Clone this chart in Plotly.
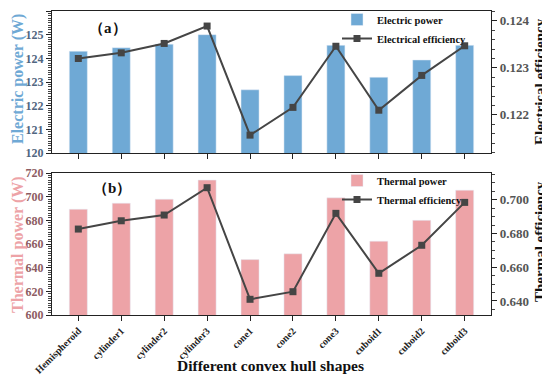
import plotly.graph_objects as go

categories = ["Hemispheroid", "cylinder1", "cylinder2", "cylinder3", "cone1", "cone2",
              "cone3", "cuboid1", "cuboid2", "cuboid3"]
electric_power = [124.3, 124.45, 124.6, 125.0, 122.67, 123.27, 124.55, 123.2, 123.93, 124.55]
electrical_eff = [0.1232, 0.12332, 0.12352, 0.12389, 0.12157, 0.12216, 0.12346, 0.1221, 0.12284, 0.12347]
thermal_power = [689.4, 694.5, 697.9, 714.0, 646.8, 651.7, 699.0, 662.4, 680.0, 705.5]
thermal_eff = [0.6826, 0.6875, 0.6909, 0.7071, 0.641, 0.6455, 0.6919, 0.6564, 0.673, 0.6984]

SERIF = "Liberation Serif"
BLUE = "#6fa9d5"
PINK = "#eda3a7"
LINE = "#454545"

fig = go.Figure()
fig.add_trace(go.Bar(x=categories, y=electric_power, name="Electric power", marker_color=BLUE,
                     width=0.42, xaxis="x", yaxis="y", legend="legend"))
fig.add_trace(go.Scatter(x=categories, y=electrical_eff, name="Electrical efficiency", mode="lines+markers",
                         line=dict(color=LINE, width=2), marker=dict(symbol="square", size=7, color=LINE),
                         xaxis="x", yaxis="y2", legend="legend"))
fig.add_trace(go.Bar(x=categories, y=thermal_power, name="Thermal power", marker_color=PINK,
                     width=0.42, xaxis="x2", yaxis="y3", legend="legend2"))
fig.add_trace(go.Scatter(x=categories, y=thermal_eff, name="Thermal efficiency", mode="lines+markers",
                         line=dict(color=LINE, width=2), marker=dict(symbol="square", size=7, color=LINE),
                         xaxis="x2", yaxis="y4", legend="legend2"))

axis_common = dict(showline=True, linecolor="#222", linewidth=1.2, ticks="outside",
                   tickcolor="#222", showgrid=False, zeroline=False, automargin=False)

# figure is offset by the page's 8px body margin
W, H = 542, 370
L, R, T, B = 44, 59, 3, 63
PW, PH = W - L - R, H - T - B


def px(x_abs):
    return (x_abs - 8 - L) / PW


def py(y_abs):
    return (H - B - (y_abs - 8)) / PH


def title_ann(text, x_abs, y_abs, size, color, angle=0):
    return dict(text=text, x=px(x_abs), y=py(y_abs), xref="paper", yref="paper", showarrow=False,
                xanchor="center", yanchor="middle", textangle=angle,
                font=dict(family=SERIF, size=size, color=color))


fig.update_layout(
    width=W, height=H,
    margin=dict(l=L, r=R, t=T, b=B, autoexpand=False),
    plot_bgcolor="white", paper_bgcolor="white",
    font=dict(family=SERIF, size=11, color="#222"),
    barmode="overlay",
    xaxis=dict(**axis_common, anchor="y", mirror=True, showticklabels=False, ticklen=5,
               categoryorder="array", categoryarray=categories),
    xaxis2=dict(**axis_common, anchor="y3", mirror=True, ticklen=5, matches="x",
                tickangle=-45, tickfont=dict(family=SERIF, size=10, color="#222", weight="bold")),
    yaxis=dict(**axis_common, domain=[py(153), 1], anchor="x", range=[120, 126], dtick=1, ticklen=5,
               minor=dict(dtick=0.1, ticklen=2.5, ticks="outside", tickcolor="#444"),
               tickfont=dict(family=SERIF, size=12, color="#4f6680", weight="bold")),
    yaxis2=dict(**axis_common, overlaying="y", side="right", anchor="x", range=[0.12119, 0.12421],
                dtick=0.001, tickformat=".3f", ticklen=5,
                minor=dict(dtick=0.0002, ticklen=3, ticks="outside", tickcolor="#444"),
                tickfont=dict(family=SERIF, size=13, color="#555", weight="bold")),
    yaxis3=dict(**axis_common, domain=[0, py(173)], anchor="x2", range=[600, 720], dtick=20, ticklen=5,
                minor=dict(dtick=2, ticklen=2.5, ticks="outside", tickcolor="#444"),
                tickfont=dict(family=SERIF, size=12, color="#8d5c62", weight="bold")),
    yaxis4=dict(**axis_common, overlaying="y3", side="right", anchor="x2", range=[0.6317, 0.7158],
                dtick=0.02, tickformat=".3f", ticklen=5,
                minor=dict(dtick=0.005, ticklen=3, ticks="outside", tickcolor="#444"),
                tickfont=dict(family=SERIF, size=13, color="#555", weight="bold")),
    legend=dict(x=px(337), y=py(5), xanchor="left", yanchor="top", bgcolor="rgba(0,0,0,0)",
                font=dict(family=SERIF, size=10.5, color="#111", weight="bold"),
                tracegroupgap=0, itemwidth=30),
    legend2=dict(x=px(337), y=py(166), xanchor="left", yanchor="top", bgcolor="rgba(0,0,0,0)",
                 font=dict(family=SERIF, size=10.5, color="#111", weight="bold"),
                 tracegroupgap=0, itemwidth=30),
    annotations=[
        title_ann("<b>（a）</b>", 108, 28, 15, "#111"),
        title_ann("<b>（b）</b>", 112, 188, 15, "#111"),
        title_ann("<b>Different convex hull shapes</b>", 270, 366, 15.5, "#111"),
        title_ann("<b>Electric power (W)</b>", 18, 79, 16, BLUE, -90),
        title_ann("<b>Thermal power (W)</b>", 18, 245, 16, PINK, -90),
        title_ann("<b>Electrical efficiency</b>", 540, 82, 15, "#111", -90),
        title_ann("<b>Thermal efficiency</b>", 540, 242, 15, "#111", -90),
    ],
)

fig.write_html("out.html")
